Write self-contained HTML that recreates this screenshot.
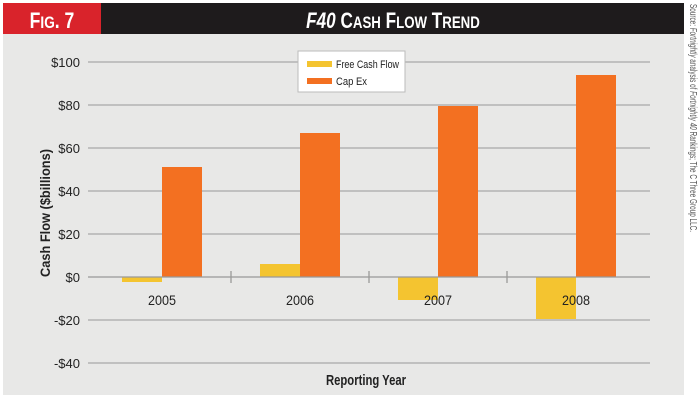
<!DOCTYPE html>
<html><head><style>
body{margin:0;background:#fff;}
svg{display:block;}
</style></head><body>
<svg width="700" height="400" xmlns="http://www.w3.org/2000/svg" font-family="Liberation Sans, sans-serif">
<rect x="0" y="0" width="700" height="400" fill="#fff"/>
<rect x="3" y="34" width="681" height="361" fill="#e8e8e7"/>
<rect x="3" y="3" width="98" height="31" fill="#d9232b"/>
<rect x="101" y="3" width="583" height="31" fill="#1e1b1c"/>
<text x="52" y="28" fill="#fff" font-size="22" font-weight="bold" text-anchor="middle" transform="translate(52 0) scale(0.8 1) translate(-52 0)">F<tspan font-size="17">IG</tspan>. 7</text>
<text x="393" y="28" fill="#fff" font-size="22" font-weight="bold" text-anchor="middle" transform="translate(393 0) scale(0.78 1) translate(-393 0)"><tspan font-style="italic">F40</tspan> C<tspan font-size="17">ASH</tspan> F<tspan font-size="17">LOW</tspan> T<tspan font-size="17">REND</tspan></text>
<text transform="translate(690 4) rotate(90)" font-size="10" fill="#555" textLength="228" lengthAdjust="spacingAndGlyphs">Source: <tspan font-style="italic">Fortnightly</tspan> analysis of <tspan font-style="italic">Fortnightly 40</tspan> Rankings; The C Three Group LLC.</text>
<g stroke="#a8a8a8" stroke-width="1.3">
<line x1="88" y1="62" x2="650" y2="62"/>
<line x1="88" y1="105" x2="650" y2="105"/>
<line x1="88" y1="148" x2="650" y2="148"/>
<line x1="88" y1="191" x2="650" y2="191"/>
<line x1="88" y1="234" x2="650" y2="234"/>
<line x1="88" y1="320" x2="650" y2="320"/>
<line x1="88" y1="363" x2="650" y2="363"/>
</g>
<g font-size="13" fill="#222" text-anchor="end">
<text x="80" y="67">$100</text><text x="80" y="110">$80</text><text x="80" y="153">$60</text>
<text x="80" y="196">$40</text><text x="80" y="239">$20</text><text x="80" y="282">$0</text>
<text x="80" y="325">-$20</text><text x="80" y="368">-$40</text>
</g>
<g fill="#f37021">
<rect x="162" y="167" width="40" height="110"/>
<rect x="300" y="133" width="40" height="144"/>
<rect x="438" y="106" width="40" height="171"/>
<rect x="576" y="75" width="40" height="202"/>
</g>
<g fill="#f4c430">
<rect x="122" y="277" width="40" height="5"/>
<rect x="260" y="264" width="40" height="13"/>
<rect x="398" y="277" width="40" height="23"/>
<rect x="536" y="277" width="40" height="42"/>
</g>
<g stroke="#999" stroke-width="1.3">
<line x1="88" y1="277" x2="650" y2="277"/>
<line x1="231" y1="271" x2="231" y2="283"/>
<line x1="369" y1="271" x2="369" y2="283"/>
<line x1="507" y1="271" x2="507" y2="283"/>
</g>
<g font-size="14" fill="#222" text-anchor="middle">
<text x="162" y="305" textLength="28" lengthAdjust="spacingAndGlyphs">2005</text>
<text x="300" y="305" textLength="28" lengthAdjust="spacingAndGlyphs">2006</text>
<text x="438" y="305" textLength="28" lengthAdjust="spacingAndGlyphs">2007</text>
<text x="576" y="305" textLength="28" lengthAdjust="spacingAndGlyphs">2008</text>
</g>
<text x="366" y="385" font-size="15" font-weight="bold" text-anchor="middle" fill="#222" textLength="80" lengthAdjust="spacingAndGlyphs">Reporting Year</text>
<text transform="translate(50 213) rotate(-90)" font-size="14" font-weight="bold" text-anchor="middle" fill="#222" textLength="128" lengthAdjust="spacingAndGlyphs">Cash Flow ($billions)</text>
<rect x="298" y="51" width="107" height="41" fill="#fff" stroke="#bbb"/>
<rect x="307" y="61" width="25" height="6" fill="#f4c430"/>
<rect x="307" y="78" width="25" height="6" fill="#f37021"/>
<text x="336" y="68" font-size="11" fill="#222" textLength="63" lengthAdjust="spacingAndGlyphs">Free Cash Flow</text>
<text x="336" y="85" font-size="11" fill="#222" textLength="31" lengthAdjust="spacingAndGlyphs">Cap Ex</text>
</svg>
</body></html>
